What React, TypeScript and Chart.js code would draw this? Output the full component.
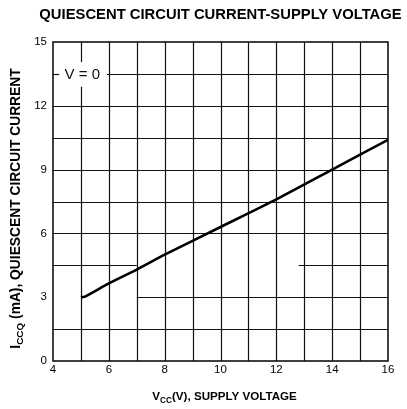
import { useEffect, useRef } from 'react';
import { Chart, registerables } from 'chart.js';

Chart.register(...registerables);

// ---- data ----
const supplyVoltage = [5, 5.15, 6, 7, 8, 10, 12, 14, 16];
const quiescentCurrent = [3.0, 3.03, 3.65, 4.3, 5.0, 6.3, 7.6, 9.0, 10.4];

const xMin = 4;
const xMax = 16;
const yMin = 0;
const yMax = 15;
const yTickStep = 3;

// horizontal grid segments: [y value, x from, x to]
const hGridSegments: [number, number, number][] = [
  [13.5, 4, 4.22],
  [13.5, 5.93, 16],
  [12, 4, 16],
  [10.5, 4, 16],
  [9, 4, 16],
  [7.5, 4, 16],
  [6, 4, 16],
  [4.5, 4, 7],
  [4.5, 12.8, 16],
  [3, 7, 16],
  [1.5, 4, 16],
];

// vertical grid segments: [x value, y from, y to]
const vGridSegments: [number, number, number][] = [
  [5, 0, 12.9],
  [5, 14.05, 15],
  [6, 0, 15],
  [7, 0, 15],
  [8, 0, 15],
  [9, 0, 15],
  [10, 0, 15],
  [11, 0, 15],
  [12, 0, 15],
  [13, 0, 15],
  [14, 0, 15],
  [15, 0, 15],
];

const chartTitle = 'QUIESCENT CIRCUIT CURRENT-SUPPLY VOLTAGE';
const xTitleParts = [
  { text: 'V' },
  { text: 'CC', sub: true },
  { text: '(V), SUPPLY VOLTAGE' },
];
const yTitleParts = [
  { text: 'I' },
  { text: 'CCQ', sub: true },
  { text: ' (mA), QUIESCENT CIRCUIT CURRENT' },
];
const curveLabel = 'V = 0';

const FONT = '"Liberation Sans", Arial, Helvetica, sans-serif';

type Part = { text: string; sub?: boolean };

function drawRich(ctx: CanvasRenderingContext2D, parts: Part[], size: number, weight: string) {
  const subSize = size * 0.72;
  let total = 0;
  const widths: number[] = [];
  for (const p of parts) {
    ctx.font = `${weight} ${p.sub ? subSize : size}px ${FONT}`;
    const w = ctx.measureText(p.text).width;
    widths.push(w);
    total += w;
  }
  let x = -total / 2;
  const base = size * 0.36;
  ctx.textBaseline = 'alphabetic';
  ctx.textAlign = 'left';
  parts.forEach((p, i) => {
    ctx.font = `${weight} ${p.sub ? subSize : size}px ${FONT}`;
    ctx.fillText(p.text, x, p.sub ? base + size * 0.22 : base);
    x += widths[i];
  });
}

const decorPlugin = {
  id: 'decor',
  beforeDatasetsDraw(chart: any) {
    const { ctx, chartArea, scales } = chart;
    const xs = scales.x;
    const ys = scales.y;
    ctx.save();
    ctx.strokeStyle = '#111';
    ctx.lineWidth = 1.2;
    for (const [yv, x0, x1] of hGridSegments) {
      const py = Math.round(ys.getPixelForValue(yv)) + 0.5;
      ctx.beginPath();
      ctx.moveTo(xs.getPixelForValue(x0), py);
      ctx.lineTo(xs.getPixelForValue(x1), py);
      ctx.stroke();
    }
    for (const [xv, y0, y1] of vGridSegments) {
      const px = Math.round(xs.getPixelForValue(xv)) + 0.5;
      ctx.beginPath();
      ctx.moveTo(px, ys.getPixelForValue(y0));
      ctx.lineTo(px, ys.getPixelForValue(y1));
      ctx.stroke();
    }
    // frame
    ctx.lineWidth = 1.6;
    ctx.strokeRect(chartArea.left, chartArea.top, chartArea.right - chartArea.left, chartArea.bottom - chartArea.top);

    // curve label
    ctx.font = `15px ${FONT}`;
    ctx.fillStyle = '#111';
    ctx.textAlign = 'center';
    ctx.textBaseline = 'middle';
    ctx.fillText(curveLabel, xs.getPixelForValue(5.05), ys.getPixelForValue(13.5) + 1);
    ctx.restore();
  },
  afterDraw(chart: any) {
    const { ctx, chartArea } = chart;
    ctx.save();
    ctx.fillStyle = '#000';
    // title
    ctx.font = `bold 14.8px ${FONT}`;
    ctx.textAlign = 'center';
    ctx.textBaseline = 'middle';
    ctx.fillText(chartTitle, (chartArea.left + chartArea.right) / 2, 14.5);
    // x title
    ctx.save();
    ctx.translate((chartArea.left + chartArea.right) / 2 + 4, 396);
    drawRich(ctx, xTitleParts, 11.6, 'bold');
    ctx.restore();
    // y title
    ctx.save();
    ctx.translate(15, (chartArea.top + chartArea.bottom) / 2 + 7);
    ctx.rotate(-Math.PI / 2);
    drawRich(ctx, yTitleParts, 13.8, 'bold');
    ctx.restore();
    ctx.restore();
  },
};

export default function App() {
  const canvasRef = useRef<HTMLCanvasElement | null>(null);

  useEffect(() => {
    document.body.style.margin = '0';
    const canvas = canvasRef.current;
    if (!canvas) return;
    const chart = new Chart(canvas, {
      type: 'scatter',
      data: {
        datasets: [
          {
            data: supplyVoltage.map((x, i) => ({ x, y: quiescentCurrent[i] })),
            showLine: true,
            borderColor: '#000',
            borderWidth: 2.6,
            pointRadius: 0,
            tension: 0.2,
          },
        ],
      },
      options: {
        animation: false,
        responsive: false,
        devicePixelRatio: 1,
        layout: { padding: { top: 42, right: 19, bottom: 0, left: 0 } },
        plugins: {
          legend: { display: false },
          tooltip: { enabled: false },
          title: { display: false },
        },
        scales: {
          x: {
            type: 'linear',
            min: xMin,
            max: xMax,
            afterFit: (scale: any) => {
              scale.height = 48;
            },
            ticks: {
              stepSize: 2,
              autoSkip: false,
              maxRotation: 0,
              padding: 2,
              color: '#000',
              font: { family: FONT, size: 11.5 },
            },
            grid: { display: false, drawTicks: false },
            border: { display: false },
          },
          y: {
            type: 'linear',
            min: yMin,
            max: yMax,
            afterFit: (scale: any) => {
              scale.width = 53;
            },
            ticks: {
              stepSize: yTickStep,
              padding: 6,
              color: '#000',
              font: { family: FONT, size: 11.5 },
            },
            grid: { display: false, drawTicks: false },
            border: { display: false },
          },
        },
      },
      plugins: [decorPlugin],
    });
    return () => chart.destroy();
  }, []);

  return (
    <div style={{ width: 407, height: 409, background: '#fff' }}>
      <canvas ref={canvasRef} width={407} height={409} />
    </div>
  );
}
